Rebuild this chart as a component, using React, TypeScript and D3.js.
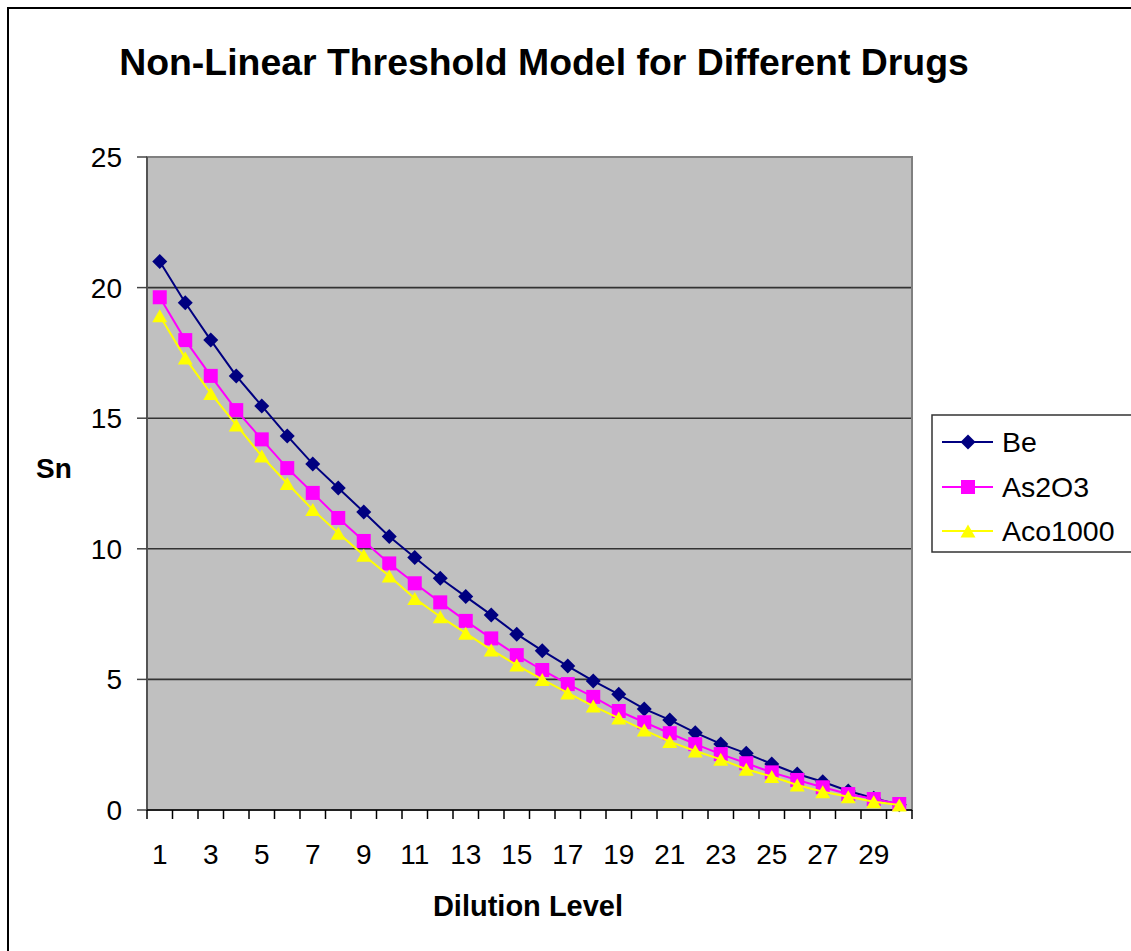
import * as d3 from "d3";

const levels = d3.range(1, 31).map(String);
const yTicks = [0, 5, 10, 15, 20, 25];

const beValues = [21.0, 19.42, 17.99, 16.62, 15.47, 14.32, 13.25, 12.33, 11.41, 10.47, 9.67, 8.87, 8.17, 7.47, 6.73, 6.1, 5.51, 4.94, 4.43, 3.87, 3.45, 2.96, 2.53, 2.17, 1.76, 1.38, 1.08, 0.73, 0.45, 0.2];
const as2o3Values = [19.63, 17.99, 16.62, 15.31, 14.19, 13.09, 12.14, 11.18, 10.3, 9.44, 8.68, 7.95, 7.24, 6.57, 5.93, 5.36, 4.82, 4.33, 3.79, 3.36, 2.94, 2.52, 2.14, 1.79, 1.44, 1.15, 0.87, 0.61, 0.42, 0.23];
const aco1000Values = [18.92, 17.3, 15.95, 14.74, 13.55, 12.5, 11.5, 10.6, 9.75, 8.96, 8.1, 7.4, 6.77, 6.13, 5.55, 5.0, 4.48, 3.98, 3.52, 3.06, 2.62, 2.26, 1.94, 1.56, 1.28, 0.96, 0.7, 0.51, 0.32, 0.19];

const series = [
  { name: "Be", values: beValues, color: "#000080", shape: "diamond" },
  { name: "As2O3", values: as2o3Values, color: "#FF00FF", shape: "square" },
  { name: "Aco1000", values: aco1000Values, color: "#FFFF00", shape: "triangle" },
];

const font = "Arial, 'Liberation Sans', sans-serif";

// plot area in page pixels
const plot = { left: 147, right: 912, top: 157, bottom: 810 };

function Marker({ shape, x, y, color }: { shape: string; x: number; y: number; color: string }) {
  if (shape === "diamond") {
    const r = 7.5;
    return <path d={`M${x},${y - r}L${x + r},${y}L${x},${y + r}L${x - r},${y}Z`} fill={color} />;
  }
  if (shape === "square") {
    const r = 7;
    return <rect x={x - r} y={y - r} width={r * 2} height={r * 2} fill={color} />;
  }
  const w = 7.5, h = 6.5;
  return <path d={`M${x},${y - h}L${x + w},${y + h}L${x - w},${y + h}Z`} fill={color} />;
}

export default function App() {
  const x = d3.scaleBand<string>().domain(levels).range([plot.left, plot.right]).padding(0);
  const y = d3.scaleLinear().domain([0, 25]).range([plot.bottom, plot.top]);
  const cx = (d: string) => (x(d) ?? 0) + x.bandwidth() / 2;

  const line = d3.line<number>()
    .x((_, i) => cx(levels[i]))
    .y((v) => y(v));

  const boundaries = levels.map((d) => x(d) ?? 0).concat([plot.right]);

  const legendY = [442, 487, 531];

  return (
    <svg width={1131} height={951} style={{ position: "absolute", left: 0, top: 0, background: "#fff" }}>
      {/* outer chart border */}
      <rect x={8} y={8} width={1200} height={1000} fill="none" stroke="#000" strokeWidth={2} />

      <text x={544} y={75} textAnchor="middle" fontFamily={font} fontWeight="bold" fontSize={37.4}>
        Non-Linear Threshold Model for Different Drugs
      </text>

      {/* plot area */}
      <rect x={plot.left} y={plot.top} width={plot.right - plot.left} height={plot.bottom - plot.top} fill="#C0C0C0" />
      {yTicks.filter((t) => t > 0 && t < 25).map((t) => (
        <line key={t} x1={plot.left} x2={plot.right} y1={y(t)} y2={y(t)} stroke="#333" strokeWidth={1.6} />
      ))}
      <rect x={plot.left} y={plot.top} width={plot.right - plot.left} height={plot.bottom - plot.top} fill="none" stroke="#808080" strokeWidth={2} />

      {/* y axis */}
      <line x1={plot.left} x2={plot.left} y1={plot.top} y2={plot.bottom} stroke="#444" strokeWidth={1.5} />
      {yTicks.map((t) => (
        <g key={t}>
          <line x1={plot.left - 10} x2={plot.left} y1={y(t)} y2={y(t)} stroke="#444" strokeWidth={1.5} />
          <text x={122} y={y(t)} dy="0.36em" textAnchor="end" fontFamily={font} fontSize={28}>{t}</text>
        </g>
      ))}

      {/* x axis */}
      <line x1={plot.left} x2={plot.right} y1={plot.bottom} y2={plot.bottom} stroke="#000" strokeWidth={1.5} />
      {boundaries.map((b, i) => (
        <line key={i} x1={b} x2={b} y1={plot.bottom} y2={plot.bottom + 9} stroke="#000" strokeWidth={1.5} />
      ))}
      {levels.filter((_, i) => i % 2 === 0).map((d) => (
        <text key={d} x={cx(d)} y={864} textAnchor="middle" fontFamily={font} fontSize={28}>{d}</text>
      ))}

      <text x={528} y={916} textAnchor="middle" fontFamily={font} fontWeight="bold" fontSize={29}>Dilution Level</text>
      <text x={54} y={478} textAnchor="middle" fontFamily={font} fontWeight="bold" fontSize={28}>Sn</text>

      {/* series */}
      {series.map((s) => (
        <g key={s.name}>
          <path d={line(s.values) ?? ""} fill="none" stroke={s.color} strokeWidth={2} />
          {s.values.map((v, i) => (
            <Marker key={i} shape={s.shape} x={cx(levels[i])} y={y(v)} color={s.color} />
          ))}
        </g>
      ))}

      {/* legend */}
      <rect x={932} y={415} width={220} height={137} fill="#fff" stroke="#333" strokeWidth={1.5} />
      {series.map((s, i) => (
        <g key={s.name}>
          <line x1={942} x2={993} y1={legendY[i]} y2={legendY[i]} stroke={s.color} strokeWidth={2} />
          <Marker shape={s.shape} x={968} y={legendY[i]} color={s.color} />
          <text x={1002} y={legendY[i]} dy="0.36em" fontFamily={font} fontSize={28.5}>{s.name}</text>
        </g>
      ))}
    </svg>
  );
}
